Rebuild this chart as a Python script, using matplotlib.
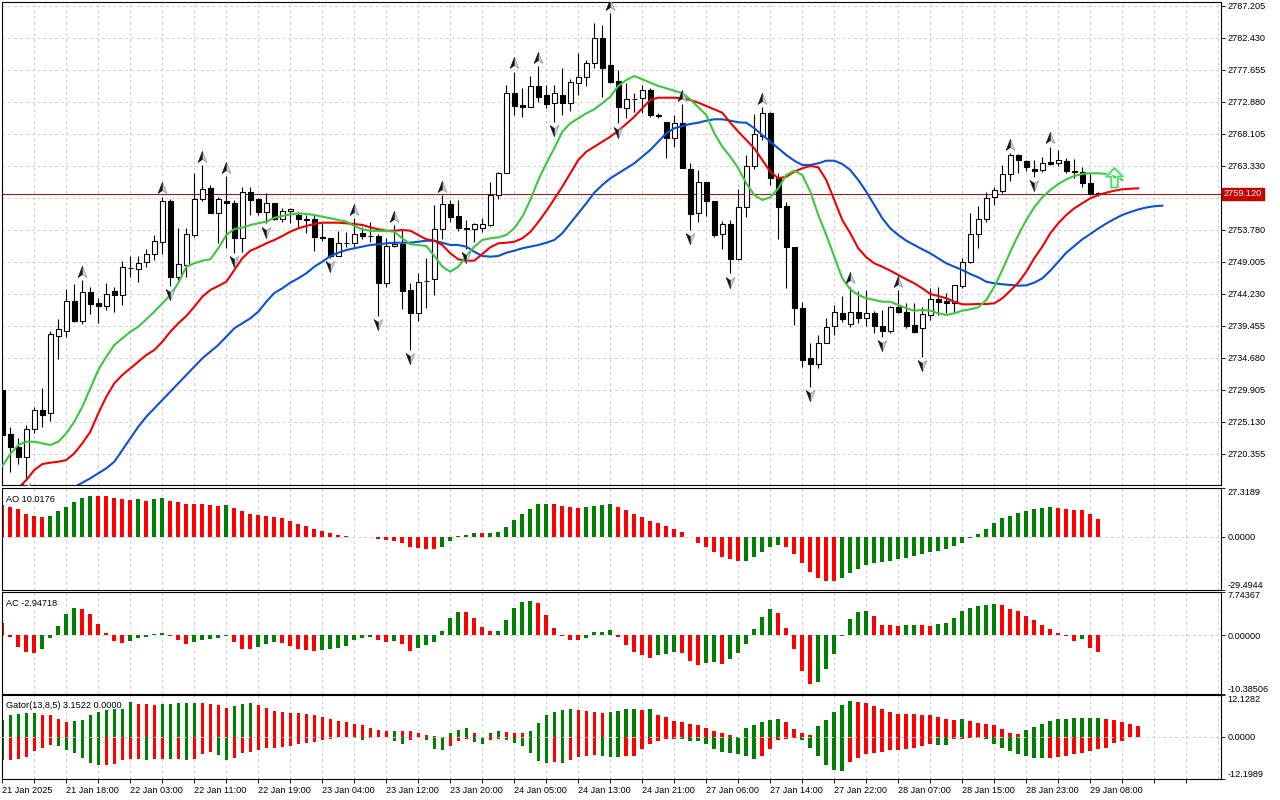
import numpy as np
import matplotlib
matplotlib.use("Agg")
import matplotlib.pyplot as plt
from matplotlib.path import Path
from matplotlib import transforms

plt.rcParams['font.family'] = ['Liberation Sans', 'DejaVu Sans']

# ---------------------------------------------------------------------------
# H1 candles (XAUUSD-like), 21 Jan 2025 -> 29 Jan 2025
# ---------------------------------------------------------------------------
opens = [2729.84, 2723.28, 2721.29, 2719.80, 2723.98, 2726.86, 2726.37, 2737.95, 2738.70, 2743.08,
         2740.19, 2744.42, 2742.78, 2742.42, 2744.66, 2744.06, 2748.10, 2747.90, 2748.90, 2750.14,
         2751.97, 2758.09, 2746.75, 2748.50, 2752.97, 2758.30, 2759.94, 2756.30, 2758.09, 2757.70,
         2752.48, 2759.35, 2758.30, 2756.45, 2757.70, 2755.32, 2756.60, 2755.96, 2755.30, 2755.32,
         2752.63, 2752.48, 2749.84, 2751.85, 2751.82, 2753.23, 2752.82, 2752.82, 2745.77, 2751.33,
         2751.58, 2744.77, 2741.38, 2746.14, 2746.36, 2753.82, 2757.60, 2755.81, 2754.06, 2753.82,
         2754.06, 2754.47, 2758.94, 2762.27, 2774.12, 2772.33, 2772.12, 2775.21, 2773.86, 2772.72,
         2773.86, 2772.72, 2775.70, 2776.60, 2778.59, 2782.33, 2778.34, 2775.95, 2771.88, 2773.30,
         2773.37, 2774.61, 2770.80, 2769.79, 2767.40, 2769.64, 2762.78, 2756.21, 2760.93, 2758.05,
         2753.08, 2754.57, 2749.35, 2757.11, 2763.31, 2767.75, 2771.22, 2761.43, 2757.30, 2751.14,
         2742.03, 2734.57, 2733.68, 2736.90, 2739.39, 2741.38, 2739.69, 2741.53, 2740.54, 2741.29,
         2739.39, 2738.69, 2742.18, 2741.53, 2739.54, 2739.05, 2741.03, 2743.38, 2743.17, 2742.78,
         2745.41, 2748.90, 2753.08, 2755.32, 2758.60, 2759.58, 2762.08, 2764.91, 2764.02, 2762.78,
         2762.67, 2763.82, 2763.67, 2764.06, 2762.45, 2762.42, 2760.69, 2759.17]
highs = [2730.14, 2724.28, 2722.64, 2724.62, 2727.35, 2730.10, 2738.70, 2740.40, 2744.87, 2745.60,
         2746.20, 2745.26, 2743.53, 2745.77, 2745.26, 2749.14, 2749.88, 2749.84, 2750.89, 2752.97,
         2758.69, 2758.30, 2753.97, 2753.97, 2762.18, 2763.42, 2760.43, 2758.69, 2761.78, 2758.20,
         2760.18, 2760.18, 2758.45, 2759.28, 2757.79, 2757.05, 2756.96, 2756.45, 2755.96, 2755.96,
         2754.81, 2752.48, 2753.62, 2753.47, 2755.46, 2754.12, 2754.96, 2753.12, 2752.48, 2754.47,
         2753.72, 2745.77, 2747.35, 2749.49, 2757.45, 2758.94, 2758.20, 2758.20, 2755.21, 2754.81,
         2755.46, 2760.93, 2762.42, 2775.36, 2777.34, 2774.86, 2776.70, 2778.19, 2775.36, 2775.36,
         2777.85, 2776.21, 2780.09, 2779.09, 2784.56, 2784.31, 2786.05, 2777.59, 2775.61, 2774.12,
         2775.36, 2774.86, 2771.22, 2769.88, 2770.88, 2772.52, 2763.67, 2762.67, 2760.93, 2758.05,
         2755.06, 2755.21, 2759.79, 2764.91, 2771.03, 2772.03, 2771.37, 2762.18, 2757.94, 2751.23,
         2743.02, 2736.81, 2738.05, 2740.54, 2742.53, 2743.87, 2745.26, 2744.62, 2744.77, 2741.68,
         2741.78, 2742.38, 2744.77, 2742.78, 2742.78, 2742.28, 2745.02, 2745.17, 2744.37, 2745.51,
         2749.49, 2756.21, 2757.30, 2759.44, 2760.09, 2763.42, 2765.17, 2765.06, 2764.17, 2764.17,
         2764.66, 2766.15, 2765.66, 2764.42, 2764.31, 2763.17, 2762.08, 2759.39]
lows = [2722.83, 2717.65, 2718.80, 2716.40, 2723.38, 2724.37, 2725.26, 2734.47, 2737.71, 2740.00,
        2739.69, 2741.19, 2739.90, 2741.78, 2741.53, 2742.53, 2746.75, 2745.91, 2748.24, 2749.24,
        2750.14, 2745.36, 2746.26, 2746.75, 2752.72, 2758.09, 2756.21, 2751.73, 2750.99, 2750.33,
        2750.48, 2755.96, 2755.96, 2754.72, 2755.21, 2754.96, 2754.72, 2753.97, 2753.23, 2750.63,
        2752.12, 2749.55, 2749.84, 2751.23, 2751.23, 2752.33, 2751.97, 2740.89, 2745.17, 2751.23,
        2741.88, 2735.81, 2740.19, 2742.03, 2744.02, 2752.33, 2754.96, 2753.62, 2750.88, 2751.97,
        2753.47, 2754.32, 2758.30, 2762.20, 2770.88, 2770.54, 2772.12, 2772.86, 2771.88, 2769.88,
        2770.88, 2771.52, 2773.86, 2775.21, 2777.85, 2773.61, 2775.61, 2769.64, 2770.39, 2771.37,
        2771.22, 2770.63, 2770.39, 2764.42, 2766.15, 2762.93, 2753.72, 2754.96, 2755.81, 2752.72,
        2750.84, 2747.26, 2749.24, 2755.61, 2762.78, 2767.15, 2760.43, 2752.33, 2745.02, 2739.54,
        2733.32, 2730.34, 2733.08, 2736.81, 2738.05, 2740.04, 2739.29, 2739.89, 2739.39, 2738.30,
        2737.80, 2738.39, 2741.29, 2739.05, 2738.30, 2734.81, 2740.29, 2741.03, 2741.38, 2741.29,
        2745.02, 2748.75, 2750.99, 2754.96, 2757.45, 2759.20, 2761.08, 2762.18, 2762.57, 2761.63,
        2762.37, 2763.42, 2763.31, 2762.18, 2761.43, 2760.09, 2758.94, 2758.79]
closes = [2723.13, 2721.29, 2719.80, 2723.98, 2726.86, 2726.11, 2738.20, 2738.90, 2743.08, 2740.10,
          2744.42, 2742.68, 2742.42, 2744.12, 2744.06, 2748.15, 2748.05, 2748.84, 2750.14, 2752.03,
          2758.09, 2746.75, 2748.60, 2753.12, 2758.30, 2759.88, 2756.30, 2758.30, 2757.70, 2752.48,
          2759.35, 2758.20, 2756.45, 2757.70, 2755.32, 2756.60, 2756.85, 2755.36, 2755.25, 2752.63,
          2752.58, 2749.84, 2751.73, 2751.80, 2753.08, 2752.82, 2752.80, 2745.86, 2751.33, 2751.58,
          2744.66, 2741.38, 2746.00, 2746.06, 2753.82, 2757.60, 2755.70, 2753.97, 2753.82, 2754.57,
          2754.57, 2758.94, 2762.27, 2774.12, 2772.22, 2772.03, 2775.21, 2773.61, 2772.52, 2774.12,
          2772.72, 2775.85, 2776.60, 2778.59, 2782.33, 2777.94, 2775.85, 2772.03, 2773.22, 2773.24,
          2774.61, 2770.88, 2770.85, 2767.40, 2769.64, 2762.93, 2756.06, 2760.93, 2758.05, 2752.97,
          2754.57, 2749.35, 2757.11, 2763.27, 2768.04, 2771.22, 2761.43, 2757.20, 2751.14, 2742.03,
          2734.32, 2733.68, 2736.90, 2739.29, 2741.53, 2740.39, 2741.53, 2740.54, 2741.29, 2739.39,
          2738.69, 2742.18, 2741.53, 2739.39, 2738.54, 2741.19, 2743.38, 2743.02, 2742.78, 2745.51,
          2748.90, 2753.08, 2755.32, 2758.45, 2759.69, 2762.08, 2764.91, 2764.17, 2763.08, 2762.57,
          2763.76, 2763.57, 2764.17, 2762.57, 2762.40, 2760.69, 2759.09, 2759.12]

# Alligator lines as drawn (already shifted forward 3 / 5 / 8 bars)
lips = [2718.50, 2720.29, 2721.64, 2722.13, 2722.13, 2721.89, 2721.64, 2722.13, 2723.38, 2725.11,
        2727.35, 2730.10, 2732.83, 2734.81, 2736.56, 2737.56, 2738.54, 2739.29, 2740.39, 2741.53,
        2742.78, 2744.02, 2745.81, 2748.24, 2748.75, 2749.14, 2749.35, 2750.99, 2752.97, 2753.87,
        2754.06, 2754.47, 2754.72, 2754.96, 2755.54, 2755.81, 2756.06, 2756.21, 2756.11, 2755.96,
        2755.70, 2755.47, 2755.21, 2754.96, 2754.32, 2753.82, 2753.61, 2753.57, 2753.57, 2753.47,
        2752.48, 2751.59, 2751.48, 2751.33, 2749.84, 2748.24, 2747.50, 2748.24, 2749.84, 2751.23,
        2752.23, 2752.48, 2752.63, 2752.97, 2753.97, 2755.70, 2758.20, 2761.18, 2763.67, 2765.91,
        2768.39, 2769.64, 2770.39, 2771.13, 2771.73, 2772.63, 2773.61, 2775.21, 2776.10, 2776.70,
        2776.21, 2775.70, 2775.21, 2774.86, 2774.51, 2774.12, 2773.22, 2772.03, 2770.88, 2768.15,
        2766.15, 2764.66, 2762.93, 2760.69, 2758.94, 2758.20, 2758.60, 2759.94, 2761.93, 2762.57,
        2761.93, 2759.43, 2755.96, 2752.97, 2749.74, 2746.51, 2744.87, 2744.02, 2743.53, 2743.27,
        2743.02, 2743.02, 2742.53, 2742.04, 2741.68, 2741.78, 2741.68, 2741.29, 2741.04, 2741.29,
        2741.68, 2741.89, 2742.18, 2743.27, 2745.26, 2747.75, 2750.48, 2752.97, 2755.21, 2757.11,
        2758.60, 2759.69, 2760.58, 2761.28, 2761.78, 2762.08, 2762.18, 2762.18, 2762.08, 2761.67,
        2761.18]
teeth = [2713.43, 2714.33, 2715.22, 2716.41, 2717.91, 2718.80, 2719.00, 2719.14, 2719.40, 2720.40,
         2721.89, 2723.62, 2726.37, 2728.84, 2730.84, 2732.08, 2733.08, 2734.07, 2735.07, 2735.81,
         2737.05, 2738.54, 2739.80, 2740.89, 2742.27, 2743.77, 2744.77, 2745.36, 2746.00, 2747.75,
         2749.50, 2750.63, 2751.14, 2751.73, 2752.23, 2752.82, 2753.47, 2753.97, 2754.32, 2754.61,
         2754.81, 2754.81, 2754.81, 2754.72, 2754.61, 2754.47, 2754.12, 2753.82, 2753.61, 2753.61,
         2753.72, 2753.61, 2752.97, 2752.33, 2752.12, 2751.48, 2750.24, 2749.35, 2749.14, 2749.14,
         2750.14, 2751.14, 2751.73, 2751.82, 2751.97, 2752.48, 2753.42, 2754.91, 2756.55, 2758.34,
         2760.18, 2762.18, 2764.16, 2765.40, 2766.15, 2766.90, 2767.64, 2768.54, 2769.54, 2770.63,
         2771.88, 2773.12, 2773.46, 2773.46, 2773.46, 2773.37, 2773.12, 2772.72, 2772.22, 2771.73,
         2771.22, 2769.73, 2768.39, 2767.15, 2765.91, 2764.16, 2762.42, 2761.43, 2761.67, 2762.42,
         2762.93, 2763.27, 2763.08, 2761.18, 2758.20, 2755.21, 2753.23, 2750.99, 2749.65, 2748.75,
         2748.24, 2747.65, 2747.00, 2746.36, 2745.77, 2745.02, 2744.17, 2743.87, 2743.53, 2743.02,
         2742.63, 2742.63, 2742.68, 2742.68, 2742.78, 2743.53, 2744.66, 2745.86, 2747.50, 2749.50,
         2751.23, 2753.23, 2754.72, 2755.96, 2756.96, 2757.70, 2758.45, 2758.94, 2759.29, 2759.58,
         2759.79, 2759.88, 2759.94]
jaw = [np.nan] * 9 + [
       2715.37, 2716.01, 2716.67, 2717.41, 2718.16, 2719.14, 2720.89, 2722.64, 2724.37, 2725.86, 2727.11,
       2728.35, 2729.59, 2730.84, 2732.08, 2733.32, 2734.57, 2735.56, 2736.56, 2737.80, 2739.05,
       2739.80, 2740.54, 2741.53, 2743.02, 2744.32, 2745.02, 2745.86, 2746.51, 2747.26, 2748.24,
       2748.99, 2749.84, 2750.33, 2750.73, 2750.99, 2751.23, 2751.48, 2751.59, 2751.73, 2751.82,
       2751.82, 2751.82, 2751.97, 2752.12, 2752.12, 2751.82, 2751.48, 2751.48, 2751.23, 2750.48,
       2749.84, 2749.74, 2749.84, 2750.33, 2750.63, 2750.99, 2751.23, 2751.48, 2751.82, 2752.23,
       2753.23, 2754.72, 2756.21, 2757.70, 2759.29, 2760.43, 2761.43, 2762.18, 2762.93, 2763.67,
       2764.66, 2765.66, 2766.90, 2768.15, 2768.90, 2769.24, 2769.54, 2769.73, 2770.03, 2770.24,
       2770.24, 2770.03, 2769.79, 2769.73, 2768.90, 2767.90, 2766.90, 2765.91, 2764.91, 2764.06,
       2763.42, 2763.42, 2763.67, 2764.06, 2764.06, 2763.57, 2762.67, 2761.18, 2759.43, 2757.45,
       2755.47, 2753.97, 2752.97, 2752.12, 2751.48, 2750.84, 2750.24, 2749.50, 2748.75, 2748.24,
       2747.75, 2747.15, 2746.66, 2746.00, 2745.77, 2745.62, 2745.51, 2745.41, 2745.46, 2745.86,
       2746.51, 2747.65, 2748.99, 2750.33, 2751.33, 2752.33, 2753.12, 2753.94, 2754.69, 2755.36,
       2755.96, 2756.40, 2756.78, 2757.08, 2757.26, 2757.35]

# Bill Williams fractals (bar indices)
fractal_up_bars = [10, 20, 25, 28, 44, 49, 55, 64, 67, 76, 85, 95, 106, 112, 126, 131]
fractal_down_bars = [3, 21, 29, 33, 41, 47, 51, 58, 69, 77, 86, 91, 101, 110, 115, 129]

# Alligator "buy" arrow
signal_bar = 139
signal_price = 2760.10

# Awesome Oscillator / Accelerator Oscillator
ao = [17.9, 16.9, 15.3, 13.0, 11.9, 11.3, 11.9, 14.3, 16.9, 19.7,
      22.0, 23.1, 23.0, 22.6, 21.5, 20.9, 20.6, 20.9, 20.3, 20.9,
      21.5, 20.3, 19.7, 18.6, 18.5, 18.1, 18.0, 17.5, 17.6, 16.4,
      14.2, 13.0, 12.4, 11.9, 11.3, 10.7, 9.0, 7.3, 6.2, 4.5,
      3.4, 2.3, 1.1, 0.5, -0.1, -0.3, -0.2, -1.3, -1.7, -2.3,
      -3.4, -5.7, -6.2, -6.8, -7.1, -5.5, -2.1, 0.3, 1.1, 2.3,
      2.2, 2.3, 2.8, 5.7, 9.6, 13.0, 15.8, 18.1, 18.6, 18.1,
      17.5, 16.9, 16.4, 16.9, 17.5, 17.6, 18.1, 16.8, 15.2, 12.9,
      11.2, 9.0, 7.8, 6.1, 4.4, 2.7, -0.3, -3.2, -5.7, -8.4,
      -11.2, -12.3, -13.5, -13.4, -11.2, -8.4, -5.6, -4.5, -5.6, -9.5,
      -14.6, -19.8, -23.0, -24.9, -25.0, -23.1, -20.3, -17.9, -16.0, -14.7,
      -14.2, -13.7, -12.6, -11.9, -10.9, -9.4, -8.5, -8.0, -6.6, -5.1,
      -3.4, -0.5, 1.3, 4.5, 8.0, 10.3, 11.7, 13.2, 14.5, 15.6,
      16.0, 16.7, 16.2, 15.6, 15.1, 15.0, 12.6, 10.0176]
ac = [2.2, -0.3, -2.1, -3.0, -3.2, -2.5, -0.5, 1.6, 3.7, 4.8,
      4.6, 3.7, 2.0, 0.4, -1.1, -1.4, -1.0, -0.5, -0.3, 0.2,
      0.4, -0.1, -0.8, -1.5, -1.2, -0.8, -0.7, -0.5, -0.1, -1.2,
      -2.4, -2.45, -2.1, -1.5, -1.2, -1.4, -1.9, -2.4, -2.6, -2.8,
      -2.6, -2.4, -2.3, -1.9, -0.8, -0.5, -0.3, -0.8, -1.2, -1.1,
      -1.5, -2.8, -2.3, -1.7, -1.2, 0.7, 3.0, 4.1, 4.05, 3.0,
      1.4, 0.7, 0.75, 2.7, 4.8, 5.9, 6.1, 5.7, 3.6, 1.2,
      -0.1, -0.8, -0.85, -0.5, 0.5, 0.55, 0.9, -0.4, -1.7, -3.0,
      -3.55, -4.0, -3.5, -3.3, -3.0, -3.2, -4.6, -5.25, -4.9, -4.85,
      -5.15, -4.2, -3.2, -1.5, 1.1, 3.2, 4.6, 3.9, 1.25, -2.45,
      -6.4, -8.7, -8.3, -6.1, -3.3, -0.1, 2.9, 4.1, 4.3, 3.4,
      1.8, 1.75, 1.7, 1.75, 1.8, 1.75, 1.7, 1.95, 2.1, 3.0,
      4.3, 4.8, 5.2, 5.35, 5.5, 5.35, 4.6, 4.3, 3.4, 2.7,
      1.8, 1.1, 0.35, -0.2, -1.0, -0.7, -2.3, -2.94718]

# Gator oscillator (upper = |jaw-teeth|, lower = |teeth-lips|, as drawn)
gator_up = [4.8, 6.2, 6.7, 7.0, 7.05, 6.3, 6.2, 5.2, 4.4, 4.7,
            5.0, 6.2, 7.3, 7.9, 7.95, 8.0, 10.2, 9.6, 9.4, 9.3,
            9.6, 9.65, 9.7, 9.75, 9.9, 9.85, 9.6, 9.3, 8.5, 9.0,
            9.6, 9.9, 9.3, 8.5, 7.6, 7.3, 7.0, 6.9, 6.7, 6.4,
            5.9, 5.3, 4.7, 4.3, 3.75, 3.3, 2.7, 2.1, 1.7, 1.8,
            1.75, 1.7, 1.1, 0.4, 0.3, 0.05, 1.25, 2.1, 2.5, 1.25,
            0.1, 1.25, 1.8, 1.55, 1.25, 1.2, 1.8, 4.0, 6.2, 7.3,
            7.9, 7.95, 7.9, 7.6, 7.3, 7.0, 7.3, 7.5, 8.1, 8.2,
            7.9, 7.95, 6.4, 5.8, 4.7, 4.4, 3.85, 3.55, 2.5, 1.8,
            1.15, 0.4, 0.1, 2.6, 3.3, 4.2, 5.0, 5.05, 4.2, 2.3,
            1.0, 0.4, 3.1, 5.0, 7.3, 9.2, 10.3, 10.2, 9.9, 9.0,
            8.1, 7.1, 6.7, 6.65, 6.6, 6.4, 6.2, 5.8, 5.2, 5.0,
            5.05, 4.6, 4.0, 3.85, 3.3, 2.3, 1.15, 0.7, 1.9, 2.8,
            3.85, 4.5, 5.2, 5.3, 5.35, 5.4, 5.45, 5.5, 5.3, 4.8,
            4.3, 3.85, 3.1522]
gator_down = [6.73, 6.64, 6.54, 5.96, 4.23, 3.27, 2.41, 2.69, 3.66, 4.71,
              6.25, 7.70, 8.27, 8.18, 7.89, 6.83, 6.44, 6.35, 6.83, 6.54,
              6.35, 6.54, 6.35, 6.83, 6.35, 4.91, 4.33, 5.29, 6.73, 6.25,
              4.62, 4.33, 3.66, 3.17, 3.15, 2.89, 2.50, 2.02, 1.73, 1.54,
              0.77, 0.58, 0.10, 0.12, 0.38, 0.77, 0.29, 0.10, 0.05, 1.25,
              1.92, 0.77, 0.38, 0.96, 3.37, 3.66, 2.69, 1.25, 0.58, 1.54,
              1.92, 0.77, 0.58, 0.96, 1.73, 2.69, 4.81, 6.93, 7.50, 7.31,
              7.60, 6.73, 5.96, 5.58, 5.39, 5.50, 5.75, 5.90, 5.60, 5.50,
              3.65, 2.00, 1.05, 0.75, 0.50, 0.75, 1.25, 1.30, 2.00, 3.40,
              4.40, 4.60, 5.00, 5.60, 6.50, 5.60, 3.65, 0.95, 0.50, 0.30,
              0.95, 3.30, 5.60, 8.00, 9.70, 9.90, 7.30, 6.05, 5.10, 4.60,
              4.30, 3.85, 3.80, 3.65, 3.20, 2.50, 2.20, 2.25, 2.40, 0.75,
              0.65, 0.30, 0.20, 0.50, 2.20, 3.20, 4.10, 4.90, 5.60, 6.15,
              6.25, 6.05, 5.85, 5.60, 5.10, 4.80, 4.20, 3.65, 3.20, 1.70,
              1.25]

price_ticks = [2787.205, 2782.430, 2777.655, 2772.880, 2768.105, 2763.330, 2758.555, 2753.780,
               2749.005, 2744.230, 2739.455, 2734.680, 2729.905, 2725.130, 2720.355]
time_labels = ["21 Jan 2025", "21 Jan 18:00", "22 Jan 03:00", "22 Jan 11:00", "22 Jan 19:00",
               "23 Jan 04:00", "23 Jan 12:00", "23 Jan 20:00", "24 Jan 05:00", "24 Jan 13:00",
               "24 Jan 21:00", "27 Jan 06:00", "27 Jan 14:00", "27 Jan 22:00", "28 Jan 07:00",
               "28 Jan 15:00", "28 Jan 23:00", "29 Jan 08:00"]

# ---------------------------------------------------------------------------
W, H = 1280, 800
GREEN, RED = '#008000', '#ff0000'
GRID = '#d2d2d2'
FS = 6.6


def add_panel(fig, top, bottom, left=2, right=1221):
    ax = fig.add_axes([left / W, 1 - bottom / H, (right - left) / W, (bottom - top) / H])
    ax.set_facecolor('white')
    for s in ax.spines.values():
        s.set_linewidth(0.8)
        s.set_color('black')
    ax.set_xlim(-0.04, 152.34)
    ax.yaxis.tick_right()
    ax.tick_params(axis='y', direction='out', length=3, width=0.6, labelsize=FS, pad=1.5)
    ax.tick_params(axis='x', bottom=False, labelbottom=False)
    for gx in range(4, 153, 4):
        ax.axvline(gx, color=GRID, lw=0.7, dashes=(3, 3), zorder=0)
    return ax


def rising_colors(vals, first):
    cols = [first]
    for a, b in zip(vals[:-1], vals[1:]):
        cols.append(GREEN if b > a else RED)
    return cols


def label_ends(ax):
    labs = ax.get_yticklabels()
    labs[0].set_va('bottom')
    labs[-1].set_va('top')


def draw_fractals(ax, bars, prices, up):
    s = 1 if up else -1
    full = Path([(0, s), (0.7, -0.8 * s), (0, -0.3 * s), (-0.7, -0.8 * s), (0, s)],
                [Path.MOVETO, Path.LINETO, Path.LINETO, Path.LINETO, Path.CLOSEPOLY])
    half = Path([(0, s), (0, -0.3 * s), (-0.7, -0.8 * s), (0, s)],
                [Path.MOVETO, Path.LINETO, Path.LINETO, Path.CLOSEPOLY])
    tr = transforms.offset_copy(ax.transData, fig=ax.figure, y=6.0 * s, units='points')
    ax.plot(bars, prices, ls='none', marker=full, ms=9, mfc='#c9d3e3', mec='#7e93b5',
            mew=0.5, transform=tr, zorder=6)
    ax.plot(bars, prices, ls='none', marker=half, ms=9, mfc='#141414', mec='#141414',
            mew=0.3, transform=tr, zorder=7)


fig = plt.figure(figsize=(W / 100, H / 100), dpi=100)
fig.patch.set_facecolor('white')

# ---- main price panel ----
ax = add_panel(fig, 2, 485)
ax.set_ylim(2715.67, 2787.74)
ax.set_yticks(price_ticks, [f"{p:.3f}" for p in price_ticks])
for p in price_ticks:
    ax.axhline(p, color=GRID, lw=0.7, dashes=(3, 3), zorder=0)

o = np.array(opens)
c = np.array(closes)
idx = np.arange(len(o))
ax.vlines(idx, lows, highs, color='black', lw=0.8, zorder=3)
ax.bar(idx, np.abs(c - o), bottom=np.minimum(o, c), width=0.56,
       color=np.where(c >= o, 'white', 'black'), edgecolor='black', lw=0.8, zorder=4)

ax.axhline(closes[-1], color='#b80000', lw=0.7, zorder=2)

ax.plot(np.arange(len(jaw)), jaw, color='#0a50d8', lw=1.5, zorder=5)
ax.plot(np.arange(len(teeth)), teeth, color='#f00000', lw=1.5, zorder=5)
ax.plot(np.arange(len(lips)), lips, color='#3cc83c', lw=1.5, zorder=5)

draw_fractals(ax, fractal_up_bars, [highs[i] for i in fractal_up_bars], True)
draw_fractals(ax, fractal_down_bars, [lows[i] for i in fractal_down_bars], False)

arrow_path = Path([(0, 1), (0.42, 0.56), (0.17, 0.56), (0.17, 0), (-0.17, 0), (-0.17, 0.56),
                   (-0.42, 0.56), (0, 1)],
                  [Path.MOVETO] + [Path.LINETO] * 6 + [Path.CLOSEPOLY])
ax.plot([signal_bar], [signal_price], ls='none', marker=arrow_path, ms=28,
        mfc='none', mec='#b8f5e8', mew=2.4, zorder=7)
ax.plot([signal_bar], [signal_price], ls='none', marker=arrow_path, ms=28,
        mfc='none', mec='#55d455', mew=1.0, zorder=8)

tag_trans = transforms.blended_transform_factory(ax.transAxes, ax.transData)
ax.text(1.0022, closes[-1], f"{closes[-1]:.3f}", transform=tag_trans, ha='left', va='center',
        fontsize=FS, color='white', zorder=10,
        bbox=dict(boxstyle='square,pad=0.18', fc='#c80000', ec='#c80000'))

# ---- AO panel ----
ax_ao = add_panel(fig, 488, 589.5)
ax_ao.set_ylim(-29.4944, 27.3189)
ax_ao.axhline(0, color=GRID, lw=0.7, dashes=(3, 3), zorder=0)
ax_ao.bar(np.arange(len(ao)), ao, width=0.5, color=rising_colors(ao, RED), zorder=2)
ax_ao.set_yticks([-29.4944, 0, 27.3189], ["-29.4944", "0.0000", "27.3189"])
label_ends(ax_ao)
ax_ao.text(0.003, 0.93, f"AO {ao[-1]:.4f}", transform=ax_ao.transAxes, ha='left', va='top',
           fontsize=FS)

# ---- AC panel ----
ax_ac = add_panel(fig, 591.5, 693.5)
ax_ac.set_ylim(-10.38506, 7.74367)
ax_ac.axhline(0, color=GRID, lw=0.7, dashes=(3, 3), zorder=0)
ax_ac.bar(np.arange(len(ac)), ac, width=0.5, color=rising_colors(ac, RED), zorder=2)
ax_ac.set_yticks([-10.38506, 0, 7.74367], ["-10.38506", "0.00000", "7.74367"])
label_ends(ax_ac)
ax_ac.text(0.003, 0.93, f"AC {ac[-1]:.5f}", transform=ax_ac.transAxes, ha='left', va='top',
           fontsize=FS)

# ---- Gator panel ----
ax_g = add_panel(fig, 695, 779)
ax_g.set_ylim(-12.1989, 12.1282)
ax_g.axhline(0, color=GRID, lw=0.7, dashes=(3, 3), zorder=3)
ax_g.bar(np.arange(len(gator_up)), gator_up, width=0.45,
         color=rising_colors(gator_up, GREEN), zorder=2)
ax_g.bar(np.arange(len(gator_down)), -np.array(gator_down), width=0.45,
         color=rising_colors(gator_down, GREEN), zorder=2)
ax_g.set_yticks([-12.1989, 0, 12.1282], ["-12.1989", "0.0000", "12.1282"])
label_ends(ax_g)
ax_g.text(0.003, 0.93, f"Gator(13,8,5) {gator_up[-1]:.4f} 0.0000", transform=ax_g.transAxes,
          ha='left', va='top', fontsize=FS)

xt = list(range(0, 149, 4))
xl = [time_labels[k // 8] if k % 8 == 0 and k // 8 < len(time_labels) else '' for k in xt]
ax_g.tick_params(axis='x', bottom=True, labelbottom=True, direction='out', length=3,
                 width=0.6, labelsize=FS, pad=2)
ax_g.set_xticks(xt, xl)
for lab in ax_g.get_xticklabels():
    lab.set_ha('left')

fig.savefig('out.png', dpi=100)
